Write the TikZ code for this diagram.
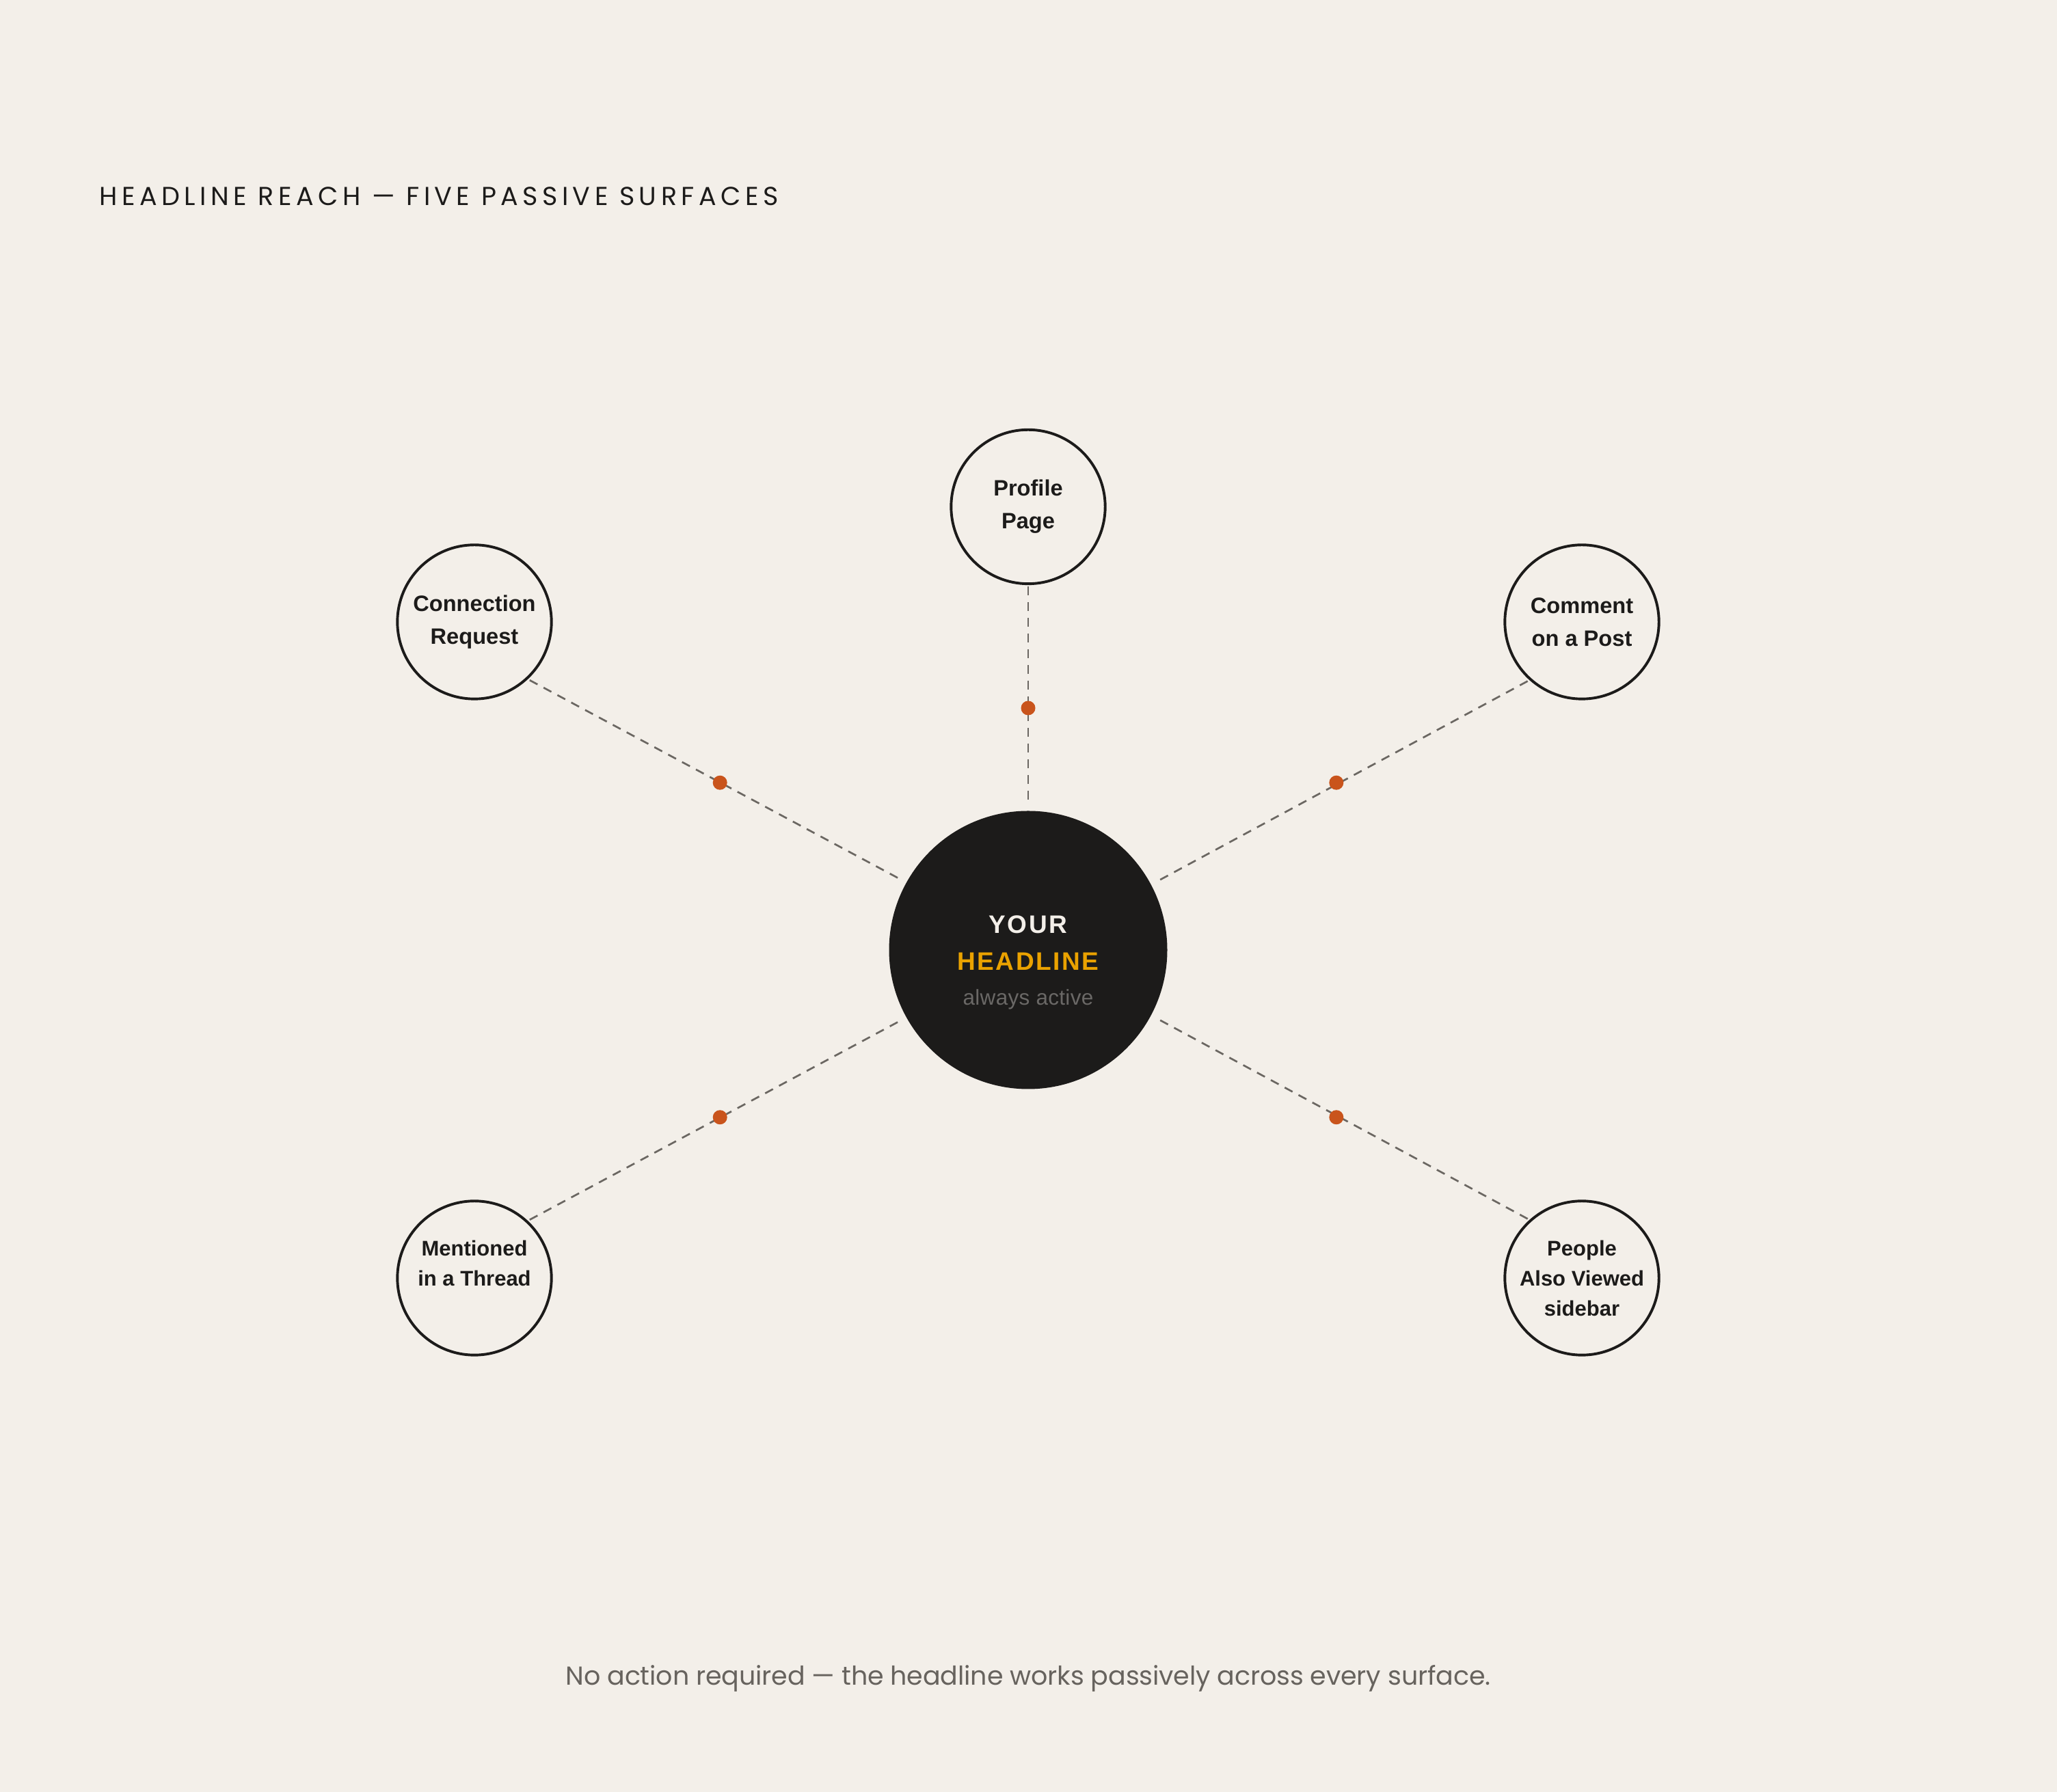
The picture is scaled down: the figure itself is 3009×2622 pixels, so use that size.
\documentclass[tikz,border=0pt]{standalone}
\usepackage{fontspec}
\setmainfont{Liberation Sans}
\newfontfamily\popfont{Poppins}
\usetikzlibrary{calc}
\definecolor{bg}{HTML}{F3EFE9}
\definecolor{ink}{HTML}{1C1B1A}
\definecolor{cream}{HTML}{F3EFE9}
\definecolor{amber}{HTML}{EAA200}
\definecolor{dotorange}{HTML}{C9541C}
\definecolor{linegray}{HTML}{6B6762}
\definecolor{footgray}{HTML}{67635E}
\definecolor{subgray}{HTML}{6A6866}
\begin{document}
\begin{tikzpicture}[x=1pt,y=1pt,
  conn/.style={draw=linegray, line width=2.7pt, dash pattern=on 13pt off 10pt},
  surface/.style={circle, draw=ink, line width=3.9pt, fill=bg, minimum size=225.4pt,
    inner sep=0pt, align=center, text=ink, font=\bfseries\fontsize{32.6}{48}\selectfont},
  surfacethree/.style={surface, font=\bfseries\fontsize{31}{44}\selectfont},
  hub/.style={circle, fill=ink, minimum size=407pt, inner sep=0pt},
  hubtext/.style={anchor=base, inner sep=0pt},
  reachdot/.style={circle, fill=dotorange, minimum size=21pt, inner sep=0pt}
]
\fill[bg] (0,0) rectangle (3009,2622);
\useasboundingbox (0,0) rectangle (3009,2622);

% title
\node[anchor=base west, inner sep=0pt, text=ink,
  font=\popfont\fontsize{38}{46}\selectfont\addfontfeatures{LetterSpace=17}]
  (title) at (145.6,2321) {HEADLINE REACH — FIVE PASSIVE SURFACES};

% hub
\node[hub] (hub) at (1504,1232) {};
\node[hubtext, text=cream, font=\bfseries\fontsize{37}{44}\selectfont\addfontfeatures{LetterSpace=7}]
  (your) at (1504,1256) {YOUR};
\node[hubtext, text=amber, font=\bfseries\fontsize{37}{44}\selectfont\addfontfeatures{LetterSpace=7}]
  (headline) at (1504,1202.7) {HEADLINE};
\node[hubtext, text=subgray, font=\fontsize{31.5}{38}\selectfont\addfontfeatures{LetterSpace=1}]
  (active) at (1504,1151) {always active};

% surfaces
\node[surface] (prof) at (1504,1880.5) {Profile\\Page};
\node[surface] (connreq) at (694,1712) {Connection\\Request};
\node[surface] (comment) at (2314,1712) {Comment\\on a Post};
\node[surfacethree] (ment) at (694,752) {};
\node[inner sep=0pt, align=center, text=ink, font=\bfseries\fontsize{31}{44}\selectfont]
  (mentlabel) at (694,774) {Mentioned\\in a Thread};
\node[surfacethree] (people) at (2314,752) {People\\Also Viewed\\sidebar};

% connectors
\draw[conn, shorten <=2pt, shorten >=12.5pt] (prof.south) -- (hub.north);
\draw[conn, shorten <=3pt, shorten >=11pt] (connreq.-47.5) -- (hub.151.5);
\draw[conn, shorten <=3pt, shorten >=11pt] (comment.-132.5) -- (hub.28.5);
\draw[conn, shorten <=3pt, shorten >=11pt] (ment.47.5) -- (hub.-151.5);
\draw[conn, shorten <=3pt, shorten >=11pt] (people.132.5) -- (hub.-28.5);

% dots
\node[reachdot] (dtop) at ($(hub.center)+(0,354)$) {};
\node[reachdot] (dul) at ($(hub.center)+(151.5:513)$) {};
\node[reachdot] (dur) at ($(hub.center)+(28.5:513)$) {};
\node[reachdot] (dll) at ($(hub.center)+(-151.5:513)$) {};
\node[reachdot] (dlr) at ($(hub.center)+(-28.5:513)$) {};

% footer
\node[anchor=base, inner sep=0pt, text=footgray,
  font=\popfont\fontsize{38}{46}\selectfont\addfontfeatures{LetterSpace=-0.4}]
  (foot) at (1504,156) {No action required — the headline works passively across every surface.};
\end{tikzpicture}
\end{document}
